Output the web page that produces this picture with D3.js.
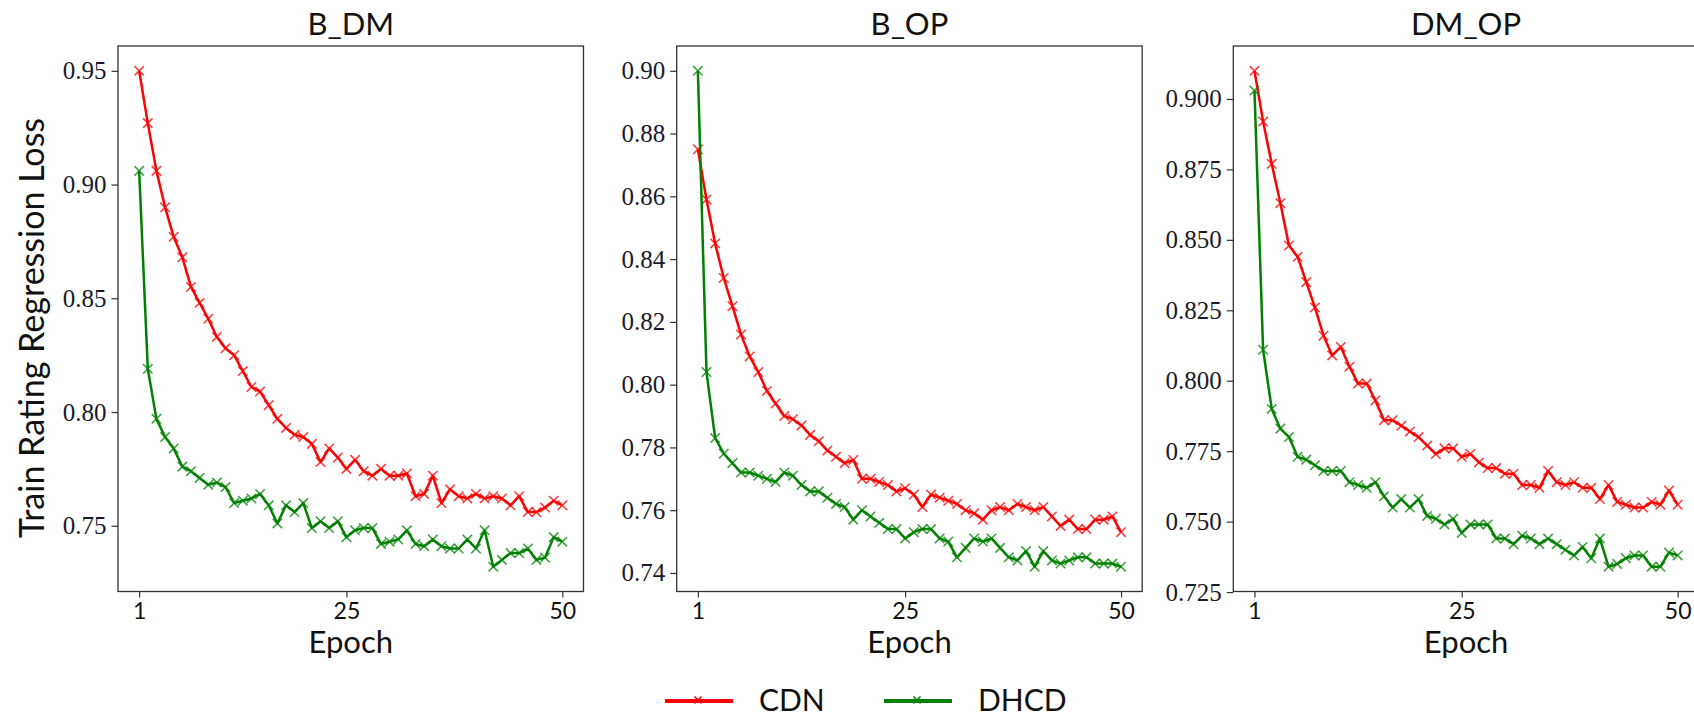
<!DOCTYPE html>
<html>
<head>
<meta charset="utf-8">
<script src="https://cdn.jsdelivr.net/npm/d3@7"></script>
<style>
  body { margin: 0; background: #fff; }
  svg { display: block; }
</style>
</head>
<body>
<svg id="chart" width="1694" height="716"></svg>
<script>
// epochs on the x axis
const epochs = d3.range(1, 51);
const xTickValues = [1, 25, 50];
const panelTitles = ['B_DM', 'B_OP', 'DM_OP'];
const seriesNames = ['CDN', 'DHCD'];

// B_DM
const cdnBDM = [0.950, 0.927, 0.906, 0.890, 0.877, 0.868, 0.855, 0.848, 0.841, 0.833,
  0.828, 0.825, 0.818, 0.811, 0.809, 0.803, 0.797, 0.793, 0.790, 0.789,
  0.786, 0.778, 0.784, 0.780, 0.775, 0.779, 0.774, 0.772, 0.775, 0.772,
  0.772, 0.773, 0.763, 0.764, 0.772, 0.760, 0.766, 0.763, 0.762, 0.764,
  0.762, 0.763, 0.762, 0.759, 0.763, 0.756, 0.756, 0.758, 0.761, 0.759];
const dhcdBDM = [0.906, 0.819, 0.797, 0.789, 0.784, 0.776, 0.774, 0.771, 0.768, 0.769,
  0.767, 0.760, 0.761, 0.762, 0.764, 0.759, 0.751, 0.759, 0.756, 0.760,
  0.749, 0.752, 0.749, 0.752, 0.745, 0.748, 0.749, 0.749, 0.742, 0.743,
  0.744, 0.748, 0.742, 0.741, 0.744, 0.741, 0.740, 0.740, 0.744, 0.740,
  0.748, 0.732, 0.735, 0.738, 0.738, 0.740, 0.735, 0.736, 0.745, 0.743];

// B_OP
const cdnBOP = [0.875, 0.859, 0.845, 0.834, 0.825, 0.816, 0.809, 0.804, 0.798, 0.794,
  0.790, 0.789, 0.787, 0.784, 0.782, 0.779, 0.777, 0.775, 0.776, 0.770,
  0.770, 0.769, 0.768, 0.766, 0.767, 0.765, 0.761, 0.765, 0.764, 0.763,
  0.762, 0.760, 0.759, 0.757, 0.760, 0.761, 0.760, 0.762, 0.761, 0.760,
  0.761, 0.758, 0.755, 0.757, 0.754, 0.754, 0.757, 0.757, 0.758, 0.753];
const dhcdBOP = [0.900, 0.804, 0.783, 0.778, 0.775, 0.772, 0.772, 0.771, 0.770, 0.769,
  0.772, 0.771, 0.768, 0.766, 0.766, 0.764, 0.762, 0.761, 0.757, 0.760,
  0.758, 0.756, 0.754, 0.754, 0.751, 0.753, 0.754, 0.754, 0.751, 0.750,
  0.745, 0.748, 0.751, 0.750, 0.751, 0.748, 0.745, 0.744, 0.747, 0.742,
  0.747, 0.744, 0.743, 0.744, 0.745, 0.745, 0.743, 0.743, 0.743, 0.742];

// DM_OP
const cdnDMOP = [0.910, 0.892, 0.877, 0.863, 0.848, 0.844, 0.835, 0.826, 0.816, 0.809,
  0.812, 0.805, 0.799, 0.799, 0.793, 0.786, 0.786, 0.784, 0.782, 0.780,
  0.777, 0.774, 0.776, 0.776, 0.773, 0.774, 0.771, 0.769, 0.769, 0.767,
  0.767, 0.763, 0.763, 0.762, 0.768, 0.764, 0.763, 0.764, 0.762, 0.762,
  0.758, 0.763, 0.757, 0.756, 0.755, 0.755, 0.757, 0.756, 0.761, 0.756];
const dhcdDMOP = [0.903, 0.811, 0.790, 0.783, 0.780, 0.773, 0.772, 0.770, 0.768, 0.768,
  0.768, 0.764, 0.763, 0.762, 0.764, 0.759, 0.755, 0.758, 0.755, 0.758,
  0.752, 0.751, 0.749, 0.751, 0.746, 0.749, 0.749, 0.749, 0.744, 0.744,
  0.742, 0.745, 0.744, 0.742, 0.744, 0.742, 0.740, 0.738, 0.741, 0.737,
  0.744, 0.734, 0.735, 0.737, 0.738, 0.738, 0.734, 0.734, 0.739, 0.738];

// y tick labels per panel
const yTicksBDM = ['0.75', '0.80', '0.85', '0.90', '0.95'];
const yTicksBOP = ['0.74', '0.76', '0.78', '0.80', '0.82', '0.84', '0.86', '0.88', '0.90'];
const yTicksDMOP = ['0.725', '0.750', '0.775', '0.800', '0.825', '0.850', '0.875', '0.900'];

const panels = [
  { title: panelTitles[0], series: [cdnBDM, dhcdBDM], yTicks: yTicksBDM },
  { title: panelTitles[1], series: [cdnBOP, dhcdBOP], yTicks: yTicksBOP },
  { title: panelTitles[2], series: [cdnDMOP, dhcdDMOP], yTicks: yTicksDMOP }
];

const colors = ['#ff0000', '#008000'];
const serifFont = '"Liberation Serif", "DejaVu Serif", serif';
const sansFont = 'Lato, "Open Sans", sans-serif';

const svg = d3.select('#chart');
const panelLefts = [118, 676.7, 1233.3];
const panelTop = 46;
const panelW = 465.5;
const panelH = 545.5;

const xMarker = 'M-4.7,-4.7L4.7,4.7M-4.7,4.7L4.7,-4.7';

panels.forEach((p, i) => {
  const g = svg.append('g').attr('transform', `translate(${panelLefts[i]},${panelTop})`);

  // matplotlib-style 5% margins
  const xExt = d3.extent(epochs);
  const xPad = (xExt[1] - xExt[0]) * 0.05;
  const x = d3.scaleLinear().domain([xExt[0] - xPad, xExt[1] + xPad]).range([0, panelW]);

  const allVals = p.series.flat();
  const yExt = d3.extent(allVals);
  const yPad = (yExt[1] - yExt[0]) * 0.05;
  const y = d3.scaleLinear().domain([yExt[0] - yPad, yExt[1] + yPad]).range([panelH, 0]);

  const line = d3.line()
    .x((d, k) => x(epochs[k]))
    .y(d => y(d));

  p.series.forEach((vals, s) => {
    g.append('path')
      .datum(vals)
      .attr('fill', 'none')
      .attr('stroke', colors[s])
      .attr('stroke-width', 2.5)
      .attr('stroke-linejoin', 'round')
      .attr('d', line);

    g.append('g')
      .selectAll('path')
      .data(vals)
      .join('path')
      .attr('transform', (d, k) => `translate(${x(epochs[k])},${y(d)})`)
      .attr('d', xMarker)
      .attr('fill', 'none')
      .attr('stroke', colors[s])
      .attr('stroke-opacity', 0.75)
      .attr('stroke-width', 1.6);
  });

  // frame
  g.append('rect')
    .attr('width', panelW)
    .attr('height', panelH)
    .attr('fill', 'none')
    .attr('stroke', '#333')
    .attr('stroke-width', 1.3);

  // axes
  const xAxis = g.append('g')
    .attr('transform', `translate(0,${panelH})`)
    .call(d3.axisBottom(x).tickValues(xTickValues).tickFormat(d3.format('d')).tickSize(6).tickPadding(5));
  xAxis.select('.domain').remove();
  xAxis.attr('font-family', sansFont).attr('font-size', 23);
  xAxis.selectAll('line').attr('stroke', '#333').attr('stroke-width', 1.2);
  xAxis.selectAll('text').attr('fill', '#111');

  const yAxis = g.append('g')
    .call(d3.axisLeft(y).tickValues(p.yTicks.map(Number))
      .tickFormat((d, k) => p.yTicks[k]).tickSize(6.5).tickPadding(5));
  yAxis.select('.domain').remove();
  yAxis.attr('font-family', serifFont).attr('font-size', 25);
  yAxis.selectAll('line').attr('stroke', '#333').attr('stroke-width', 1.2);
  yAxis.selectAll('text').attr('fill', '#1a1a2a');

  g.append('text')
    .attr('x', panelW / 2)
    .attr('y', -11)
    .attr('text-anchor', 'middle')
    .style('font-family', sansFont)
    .style('font-size', '31px')
    .attr('fill', '#111')
    .text(p.title);

  g.append('text')
    .attr('x', panelW / 2)
    .attr('y', panelH + 61)
    .attr('text-anchor', 'middle')
    .style('font-family', sansFont)
    .style('font-size', '31px')
    .attr('fill', '#111')
    .text('Epoch');
});

svg.append('text')
  .attr('transform', 'translate(44,328) rotate(-90)')
  .attr('text-anchor', 'middle')
  .style('font-family', sansFont)
  .style('font-size', '34px')
  .attr('fill', '#111')
  .text('Train Rating Regression Loss');

// legend
const legendX = [665, 884];
const legend = svg.append('g').attr('transform', 'translate(0,701)');
seriesNames.forEach((name, s) => {
  const lg = legend.append('g').attr('transform', `translate(${legendX[s]},0)`);
  lg.append('line')
    .attr('x1', 0).attr('x2', 68)
    .attr('stroke', colors[s])
    .attr('stroke-width', 4);
  lg.append('path')
    .attr('transform', 'translate(33,-1) scale(0.75)')
    .attr('d', xMarker)
    .attr('fill', 'none')
    .attr('stroke', colors[s])
    .attr('stroke-width', 2);
  lg.append('text')
    .attr('x', 94)
    .attr('y', 10)
    .style('font-family', sansFont)
    .style('font-size', '30px')
    .attr('fill', '#111')
    .text(name);
});
</script>
</body>
</html>
